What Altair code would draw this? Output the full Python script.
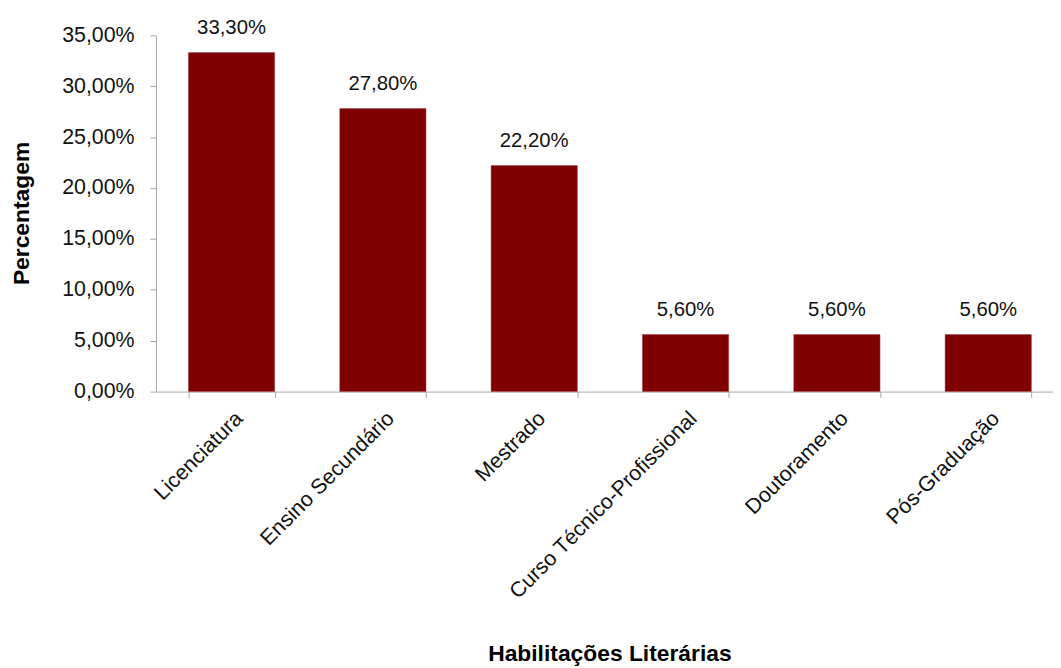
import altair as alt
import pandas as pd

categories = ["Licenciatura", "Ensino Secundário", "Mestrado",
              "Curso Técnico-Profissional", "Doutoramento", "Pós-Graduação"]
values = [33.30, 27.80, 22.20, 5.60, 5.60, 5.60]
y_ticks = [0, 5, 10, 15, 20, 25, 30, 35]

df = pd.DataFrame({"cat": categories, "val": values})

FONT = "Liberation Sans"
BOLD_FONT = "Liberation Sans Narrow, Liberation Sans"

x_enc = alt.X(
    "cat:N", sort=categories,
    scale=alt.Scale(range=[0, 915], paddingInner=0.43, paddingOuter=0.215),
    axis=alt.Axis(
        title="Habilitações Literárias", labelAngle=-45, labelAlign="right",
        labelBaseline="top", labelPadding=10, labelFontSize=21.5, labelFont=FONT,
        labelColor="#111111", domainColor="#a6a6a6", tickColor="#a6a6a6",
        tickSize=6, tickBand="extent", ticks=True, grid=False, labelLimit=0,
        titleFont=BOLD_FONT, titleFontSize=23, titleFontWeight="bold",
        titleColor="#000000", titleX=457, titleY=271, titleBaseline="alphabetic",
        titleAnchor="middle", titleAlign="center", labelOverlap=False,
    ),
)

y_enc = alt.Y(
    "val:Q",
    scale=alt.Scale(domain=[0, 35], nice=False),
    axis=alt.Axis(
        title="Percentagem", values=y_ticks,
        labelExpr="replace(format(datum.value, '.2f'), '.', ',') + '%'",
        labelFontSize=21.5, labelFont=FONT, labelColor="#111111", labelPadding=16,
        domainColor="#a6a6a6", tickColor="#a6a6a6", tickSize=6, grid=False,
        titleFont=BOLD_FONT, titleFontSize=23, titleFontWeight="bold",
        titleColor="#000000", titleX=-135, titleY=179, titleAngle=-90,
        titleAlign="center", titleBaseline="middle",
    ),
)

bars = alt.Chart(df).mark_bar(color="#800000", stroke="#a04040", strokeWidth=0.5).encode(
    x=x_enc, y=y_enc
)

labels = alt.Chart(df).transform_calculate(
    lab="replace(format(datum.val, '.2f'), '.', ',') + '%'"
).mark_text(baseline="alphabetic", dy=-19, fontSize=20.5, font=FONT, color="#111111").encode(
    x=alt.X("cat:N", sort=categories),
    y=alt.Y("val:Q"),
    text="lab:N",
)

chart = alt.layer(bars, labels).properties(
    width=904, height=359,
    autosize=alt.AutoSizeParams(type="none"),
    padding={"left": 149, "top": 25, "right": 0, "bottom": 276},
).configure_view(stroke=None)

chart.save("out.html", embed_options={"renderer": "svg", "actions": False})
